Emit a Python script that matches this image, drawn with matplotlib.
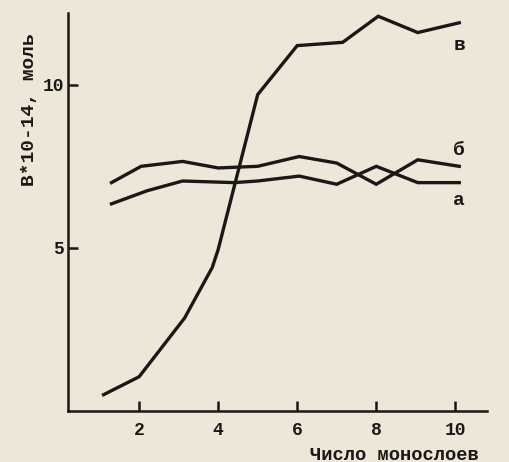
"""
Number of monolayers vs B*10-14, three curves (a, б, в)
"""
import numpy as np
import matplotlib.pyplot as plt

# curve в (steep rise)
x_v = [1.1, 2.0, 3.15, 3.85, 4.0, 5.0, 6.0, 7.15, 8.05, 9.05, 10.1]
y_v = [0.5, 1.05, 2.85, 4.4, 4.95, 9.7, 11.2, 11.3, 12.1, 11.6, 11.9]

# curve б (upper flat one at start)
x_b = [1.3, 2.05, 3.1, 4.0, 5.0, 6.05, 7.0, 8.0, 9.05, 10.1]
y_b = [7.0, 7.5, 7.65, 7.45, 7.5, 7.8, 7.6, 6.95, 7.7, 7.5]

# curve а (lower flat one at start)
x_a = [1.3, 2.2, 3.1, 4.4, 5.0, 6.05, 7.0, 8.0, 9.05, 10.1]
y_a = [6.35, 6.75, 7.05, 7.0, 7.05, 7.2, 6.95, 7.5, 7.0, 7.0]

x_ticks = [2, 4, 6, 8, 10]
y_ticks = [5, 10]

bg = "#ece7d8"
ink = "#1a1817"
font = "Liberation Mono"

fig = plt.figure(figsize=(5.09, 4.62), dpi=100, facecolor=bg)
ax = fig.add_axes([0.1336, 0.1104, 0.823, 0.8615], facecolor=bg)

for xs, ys in [(x_v, y_v), (x_b, y_b), (x_a, y_a)]:
    ax.plot(xs, ys, color=ink, lw=2.4, solid_joinstyle="miter")

ax.set_xlim(0.2, 10.8)
ax.set_ylim(0, 12.2)
for s in ["top", "right"]:
    ax.spines[s].set_visible(False)
for s in ["left", "bottom"]:
    ax.spines[s].set_linewidth(1.8)
    ax.spines[s].set_color(ink)

ax.set_xticks(x_ticks)
ax.set_yticks(y_ticks)
ax.tick_params(direction="in", length=7, width=1.8, color=ink)
ax.tick_params(axis="x", pad=8)
ax.tick_params(axis="y", pad=3)
for lbl in ax.get_xticklabels() + ax.get_yticklabels():
    lbl.set_fontfamily(font)
    lbl.set_fontweight("bold")
    lbl.set_fontsize(13)
    lbl.set_color(ink)

# curve labels
ax.text(10.1, 11.2, "в", fontsize=14, fontweight="bold", family=font, color=ink, ha="center", va="center")
ax.text(10.1, 8.0, "б", fontsize=14, fontweight="bold", family=font, color=ink, ha="center", va="center")
ax.text(10.1, 6.45, "а", fontsize=14, fontweight="bold", family=font, color=ink, ha="center", va="center")

fig.text(30 / 509, 1 - 110 / 462, "В*10-14, моль", rotation=90, fontsize=14,
         fontweight="bold", family=font, color=ink, ha="center", va="center")
fig.text(310 / 509, 1 - 455 / 462, "Число монослоев", fontsize=13.5,
         fontweight="bold", family=font, color=ink, ha="left", va="center")

fig.savefig("out.png", dpi=100, facecolor=bg)
